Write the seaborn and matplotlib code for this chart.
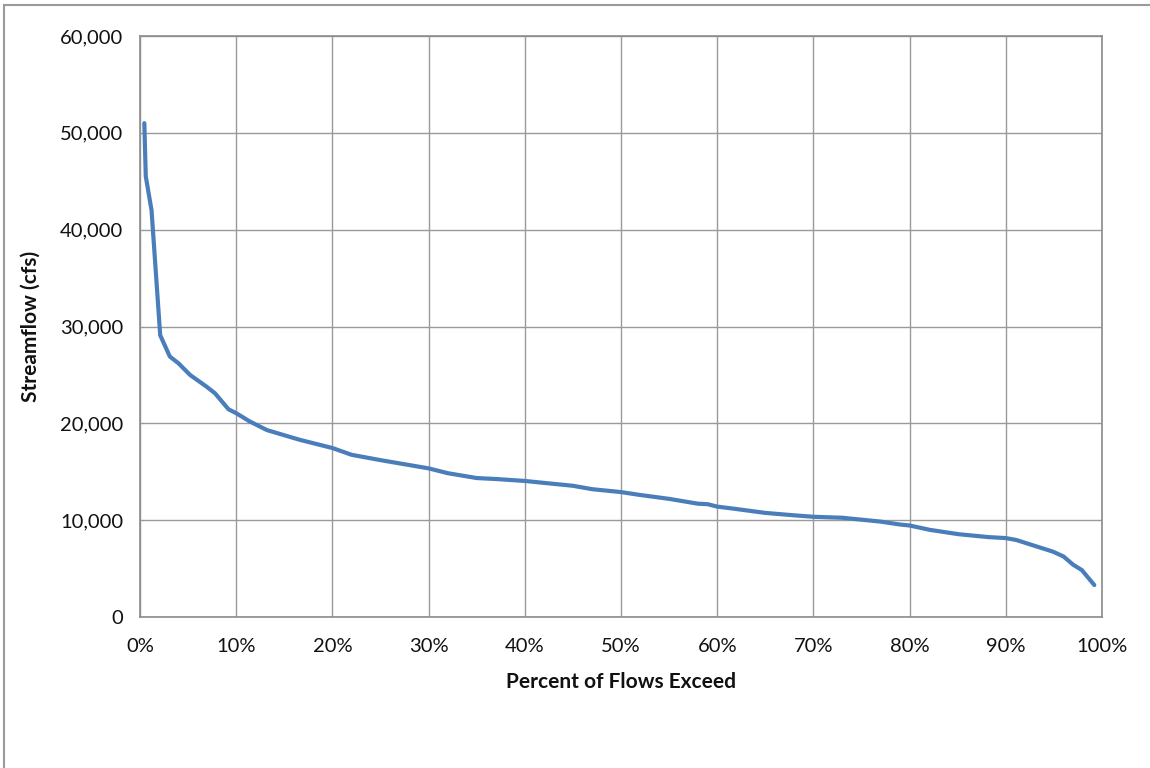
import matplotlib
matplotlib.use("Agg")
import matplotlib.pyplot as plt
from matplotlib.patches import Rectangle
import seaborn as sns
import pandas as pd

# Percent of flows exceeded (%)
pct_exceed = [0.45, 0.6, 1.2, 2.1, 3.1, 4.0, 5.2, 6.9, 7.8, 9.2, 10.0, 11.4, 13.2,
              16.6, 20.0, 22.0, 25.0, 30.0, 32.0, 35.0, 37.0, 40.0, 45.0, 47.0, 50.0,
              52.0, 55.0, 58.0, 59.0, 60.0, 62.0, 65.0, 68.0, 70.0, 73.0, 75.0, 77.0,
              79.0, 80.0, 82.1, 85.1, 88.2, 90.0, 91.1, 92.9, 94.9, 96.0, 97.0, 97.9, 99.2]
# Streamflow (cfs)
streamflow = [51000, 45500, 42000, 29100, 26900, 26200, 25000, 23800, 23100, 21450,
              21050, 20200, 19300, 18300, 17450, 16750, 16200, 15350, 14850, 14350,
              14250, 14050, 13550, 13200, 12900, 12600, 12200, 11700, 11650, 11400,
              11150, 10750, 10500, 10350, 10250, 10050, 9850, 9550, 9450, 9000, 8550,
              8250, 8150, 7950, 7380, 6750, 6250, 5400, 4850, 3300]

x_ticks = list(range(0, 101, 10))
x_tick_labels = [f"{t}%" for t in x_ticks]
y_ticks = list(range(0, 60001, 10000))
y_tick_labels = [f"{t:,}" for t in y_ticks]

df = pd.DataFrame({"pct": pct_exceed, "flow": streamflow})

sns.set_theme(style="white")
plt.rcParams["font.family"] = ["Lato", "DejaVu Sans"]

fig = plt.figure(figsize=(11.5, 7.68), dpi=100)
ax = fig.add_axes([140 / 1150, 1 - 617 / 768, 962 / 1150, 581 / 768])

sns.lineplot(data=df, x="pct", y="flow", ax=ax, color="#4a7ebb", linewidth=3.0)

ax.set_xlim(0, 100)
ax.set_ylim(0, 60000)
ax.set_xticks(x_ticks)
ax.set_xticklabels(x_tick_labels)
ax.set_yticks(y_ticks)
ax.set_yticklabels(y_tick_labels)

ax.grid(True, color="#9a9a9a", linewidth=1.0)
ax.set_axisbelow(True)
for s in ax.spines.values():
    s.set_color("#8c8c8c")
    s.set_linewidth(1.2)

ax.tick_params(axis="both", which="both", direction="out", length=6, width=1,
               color="#8c8c8c", labelsize=14.5, labelcolor="#111111", pad=6)
ax.tick_params(axis="x", pad=9)

ax.set_xlabel("Percent of Flows Exceed", fontsize=15, fontweight="bold",
              color="#111111", labelpad=12)
ax.set_ylabel("Streamflow (cfs)", fontsize=15, fontweight="bold",
              color="#111111", labelpad=14)

# outer chart border
fig.patches.append(Rectangle((4 / 1150, -0.05), 1.2, 1 - 5 / 768 + 0.05,
                             transform=fig.transFigure, fill=False,
                             edgecolor="#9a9a9a", linewidth=1.5))

fig.savefig("out.png", dpi=100)
